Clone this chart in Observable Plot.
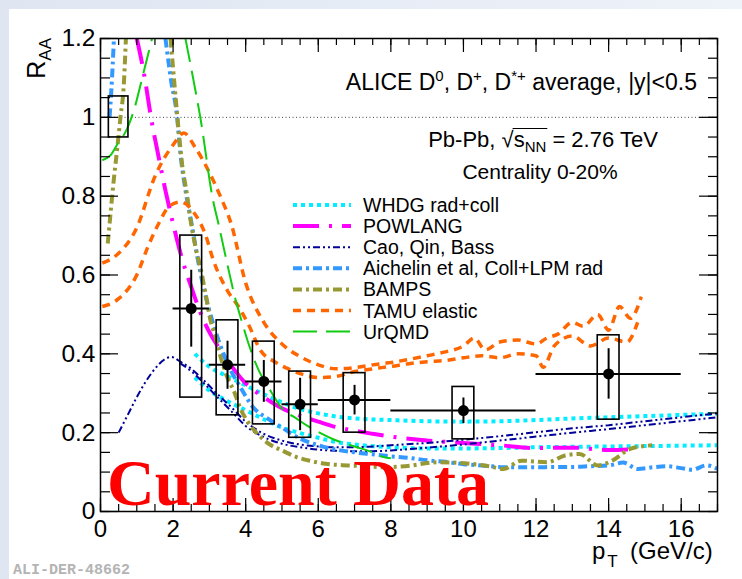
<!DOCTYPE html>
<html><head><meta charset="utf-8">
<script src="https://cdn.jsdelivr.net/npm/d3@7"></script>
<script src="https://cdn.jsdelivr.net/npm/@observablehq/plot@0.6"></script>
<style>
html,body{margin:0;padding:0;}
body{width:742px;height:579px;background:linear-gradient(90deg,#dfe6f2,#eef2f9);position:relative;overflow:hidden;}
#paper{position:absolute;left:9px;top:9px;width:733px;height:570px;background:#fff;}
#chart{position:absolute;left:0;top:0;}
#chart svg{display:block;}
</style></head><body><div id="paper"></div><div id="chart"></div>
<script>
// ---------------- Measured D-meson RAA (ALICE, Pb-Pb 2.76 TeV, 0-20%) ----------------
const ptCenter  = [2.5, 3.5, 4.5, 5.5, 7, 10, 14];
const ptBinLow  = [2, 3, 4, 5, 6, 8, 12];
const ptBinHigh = [3, 4, 5, 6, 8, 12, 16];
const raaValue  = [0.515, 0.372, 0.330, 0.272, 0.283, 0.256, 0.349];
const statLow   = [0.417, 0.310, 0.277, 0.205, 0.245, 0.223, 0.285];
const statHigh  = [0.612, 0.432, 0.383, 0.338, 0.320, 0.288, 0.413];
const systLow   = [0.289, 0.244, 0.221, 0.187, 0.200, 0.183, 0.233];
const systHigh  = [0.700, 0.485, 0.431, 0.355, 0.351, 0.316, 0.447];
const systHalfWidth = 0.3;
// normalisation uncertainty box around RAA = 1
const normPtLow = [0.23], normPtHigh = [0.77], normLow = [0.949], normHigh = [1.053];

// ---------------- Model curves ----------------
const whdgUpperPt = [2.6, 3.0, 3.5, 4.0, 4.5, 5.0, 5.5, 6.0, 6.5, 7.0, 8.0, 9.0, 10.0, 11.0, 12.0, 13.0, 14.0, 15.0, 16.0, 17.0];
const whdgUpperR  = [0.40, 0.367, 0.343, 0.320, 0.297, 0.277, 0.260, 0.249, 0.241, 0.236, 0.232, 0.229, 0.228, 0.229, 0.232, 0.236, 0.239, 0.242, 0.245, 0.248];
const whdgLowerPt = [2.6, 3.0, 3.5, 4.0, 4.5, 5.0, 5.5, 6.0, 6.5, 7.0, 8.0, 9.0, 10.0, 11.0, 12.0, 13.0, 14.0, 15.0, 16.0, 17.0];
const whdgLowerR  = [0.34, 0.307, 0.280, 0.257, 0.234, 0.213, 0.199, 0.187, 0.176, 0.170, 0.163, 0.160, 0.160, 0.161, 0.163, 0.164, 0.165, 0.166, 0.167, 0.168];

const powlangPt = [1.0, 1.2, 1.4, 1.6, 1.8, 2.0, 2.25, 2.5, 2.75, 3.0, 3.3, 3.6, 4.0, 4.5, 5.0, 5.5, 6.0, 6.5, 7.0, 7.5, 8.0, 9.0, 10.0, 11.0, 12.0, 13.0, 14.0, 14.8];
const powlangR  = [1.2, 1.11, 0.995, 0.90, 0.81, 0.73, 0.64, 0.57, 0.505, 0.455, 0.41, 0.37, 0.325, 0.29, 0.262, 0.243, 0.228, 0.214, 0.205, 0.197, 0.190, 0.180, 0.174, 0.168, 0.161, 0.162, 0.156, 0.159];

const caoUpperPt = [0.5, 0.75, 1.0, 1.25, 1.5, 1.75, 1.95, 2.2, 2.5, 2.8, 3.2, 3.6, 4.0, 4.5, 5.0, 5.5, 6.0, 6.5, 7.0, 7.5, 8.0, 9.0, 10.0, 11.0, 12.0, 13.0, 14.0, 15.0, 16.0, 17.0];
const caoUpperR  = [0.20, 0.245, 0.29, 0.33, 0.362, 0.385, 0.392, 0.380, 0.362, 0.337, 0.300, 0.265, 0.228, 0.197, 0.180, 0.170, 0.165, 0.163, 0.163, 0.165, 0.168, 0.174, 0.182, 0.191, 0.201, 0.211, 0.219, 0.229, 0.239, 0.249];
const caoLowerPt = [2.2, 2.5, 2.8, 3.2, 3.6, 4.0, 4.5, 5.0, 5.5, 6.0, 6.5, 7.0, 7.5, 8.0, 9.0, 10.0, 11.0, 12.0, 13.0, 14.0, 15.0, 16.0, 17.0];
const caoLowerR  = [0.376, 0.356, 0.330, 0.292, 0.255, 0.217, 0.189, 0.172, 0.163, 0.157, 0.154, 0.153, 0.153, 0.155, 0.162, 0.170, 0.180, 0.190, 0.200, 0.209, 0.219, 0.229, 0.239];

const aichelinLowPt  = [0.25, 0.30, 0.37];
const aichelinLowR   = [1.0, 1.07, 1.2];
const aichelinHighPt = [1.79, 1.95, 2.1, 2.2, 2.35, 2.5, 2.65, 2.8, 3.0, 3.25, 3.5, 3.85, 4.2, 4.6, 5.0, 5.5, 6.0, 6.5, 7.0, 7.5, 8.0, 8.5, 9.0, 9.5, 10.0, 10.5, 11.0, 11.5, 12.0, 12.5, 13.0, 13.5, 14.0, 14.4, 14.8, 15.2, 15.6, 16.0, 16.3, 16.7, 17.0];
const aichelinHighR  = [1.2, 1.09, 1.01, 0.91, 0.81, 0.735, 0.655, 0.585, 0.51, 0.435, 0.375, 0.316, 0.265, 0.236, 0.213, 0.185, 0.168, 0.157, 0.150, 0.145, 0.140, 0.136, 0.130, 0.126, 0.120, 0.117, 0.113, 0.112, 0.112, 0.113, 0.113, 0.115, 0.117, 0.124, 0.108, 0.112, 0.115, 0.110, 0.106, 0.117, 0.108];

const bampsLowPt  = [0.2, 0.23, 0.28, 0.37, 0.46, 0.55, 0.64, 0.70];
const bampsLowR   = [0.68, 0.71, 0.76, 0.845, 0.92, 1.0, 1.08, 1.2];
const bampsHighPt = [1.93, 2.07, 2.16, 2.25, 2.39, 2.48, 2.62, 2.75, 2.9, 3.03, 3.17, 3.31, 3.49, 3.67, 3.86, 4.1, 4.4, 4.7, 5.0, 5.4, 5.8, 6.2, 6.8, 7.4, 7.8, 8.4, 9.3, 10.2, 10.7, 11.1, 11.6, 12.3, 12.8, 13.2, 13.7, 14.1, 14.6, 15.2];
const bampsHighR  = [1.2, 1.05, 0.96, 0.88, 0.80, 0.74, 0.67, 0.62, 0.55, 0.485, 0.442, 0.392, 0.341, 0.307, 0.26, 0.222, 0.19, 0.168, 0.155, 0.138, 0.128, 0.121, 0.117, 0.115, 0.112, 0.115, 0.125, 0.121, 0.115, 0.108, 0.129, 0.125, 0.142, 0.146, 0.117, 0.129, 0.159, 0.168];

const tamuUpperPt = [0.05, 0.5, 1.0, 1.5, 2.0, 2.3, 2.6, 3.0, 3.3, 3.6, 4.0, 4.5, 5.0, 5.5, 6.0, 6.5, 7.0, 7.5, 8.0, 8.5, 9.0, 9.5, 10.0, 10.3, 10.6, 11.0, 11.5, 12.0, 12.3, 12.6, 13.0, 13.3, 13.7, 14.0, 14.3, 14.6, 14.9];
const tamuUpperR  = [0.63, 0.655, 0.72, 0.85, 0.93, 0.96, 0.925, 0.86, 0.80, 0.73, 0.58, 0.48, 0.425, 0.393, 0.372, 0.362, 0.365, 0.372, 0.378, 0.386, 0.395, 0.405, 0.42, 0.44, 0.41, 0.43, 0.435, 0.425, 0.44, 0.45, 0.48, 0.47, 0.50, 0.46, 0.52, 0.49, 0.545];
const tamuLowerPt = [0.05, 0.5, 1.0, 1.3, 1.6, 1.9, 2.2, 2.6, 2.9, 3.1, 3.5, 3.8, 4.1, 4.4, 4.8, 5.1, 5.5, 6.0, 6.5, 7.0, 7.5, 8.0, 8.5, 9.0, 9.5, 10.0, 10.5, 11.0, 11.5, 12.0, 12.2, 12.5, 13.0, 13.5, 14.0, 14.5, 14.8];
const tamuLowerR  = [0.52, 0.54, 0.60, 0.67, 0.73, 0.775, 0.785, 0.755, 0.70, 0.64, 0.56, 0.52, 0.47, 0.41, 0.38, 0.365, 0.35, 0.34, 0.343, 0.355, 0.362, 0.368, 0.375, 0.38, 0.383, 0.39, 0.395, 0.39, 0.40, 0.395, 0.366, 0.42, 0.445, 0.42, 0.44, 0.43, 0.48];

const urqmdLowPt  = [0.05, 0.28, 0.5, 0.69, 0.92, 1.19, 1.42];
const urqmdLowR   = [0.891, 0.904, 0.937, 0.963, 1.018, 1.115, 1.2];
const urqmdHighPt = [2.34, 2.55, 2.75, 3.1, 3.25, 3.5, 3.7, 3.9, 4.1, 4.36, 4.68, 5.05, 5.33, 5.69, 6.0, 6.5, 7.0, 7.5, 7.8, 8.0];
const urqmdHighR  = [1.2, 1.1, 1.0, 0.79, 0.73, 0.625, 0.545, 0.48, 0.42, 0.358, 0.307, 0.256, 0.24, 0.218, 0.202, 0.18, 0.165, 0.15, 0.138, 0.135];

// ---------------- Axis ticks and labels ----------------
const xMajorTicks = [0, 2, 4, 6, 8, 10, 12, 14, 16];
const xTickLabels = ["0", "2", "4", "6", "8", "10", "12", "14", "16"];
const yMajorTicks = [0, 0.2, 0.4, 0.6, 0.8, 1.0, 1.2];
const yTickLabels = ["0", "0.2", "0.4", "0.6", "0.8", "1", "1.2"];
const xMinorTicks = d3.range(0, 17.001, 0.5);
const yMinorTicks = d3.range(0, 1.2001, 0.05);

// ---------------- Model styles / legend ----------------
const models = [
  {name: "WHDG rad+coll", color: "#00eeff", width: 4, dash: "4,4",
   branches: [[whdgUpperPt, whdgUpperR], [whdgLowerPt, whdgLowerR]]},
  {name: "POWLANG", color: "#ff00ff", width: 4, dash: "26,10,3,10",
   branches: [[powlangPt, powlangR]]},
  {name: "Cao, Qin, Bass", color: "#000099", width: 2, dash: "7,3,2,3,2,3",
   branches: [[caoUpperPt, caoUpperR], [caoLowerPt, caoLowerR]]},
  {name: "Aichelin et al, Coll+LPM rad", color: "#3399ff", width: 4, dash: "9,4,3,4",
   branches: [[aichelinLowPt, aichelinLowR], [aichelinHighPt, aichelinHighR]]},
  {name: "BAMPS", color: "#999933", width: 4, dash: "9,4,3,4",
   branches: [[bampsLowPt, bampsLowR], [bampsHighPt, bampsHighR]]},
  {name: "TAMU elastic", color: "#ff6600", width: 3.5, dash: "8,6",
   branches: [[tamuUpperPt, tamuUpperR], [tamuLowerPt, tamuLowerR]]},
  {name: "UrQMD", color: "#11cc11", width: 2, dash: "24,9",
   branches: [[urqmdLowPt, urqmdLowR], [urqmdHighPt, urqmdHighR]]}
];

// ---------------- Build tables ----------------
const points = ptCenter.map((x, i) => ({
  x, lo: ptBinLow[i], hi: ptBinHigh[i], y: raaValue[i],
  sLo: statLow[i], sHi: statHigh[i], yLo: systLow[i], yHi: systHigh[i]
}));
const norm = normLow.map((v, i) => ({x1: normPtLow[i], x2: normPtHigh[i], y1: v, y2: normHigh[i]}));

const W = 742, H = 579, ML = 100, MR = 25, MT = 38, MB = 68;
const plotW = W - ML - MR, plotH = H - MT - MB;

const curveMarks = [];
models.forEach(m => {
  m.branches.forEach(([pts, rs]) => {
    const rows = pts.map((p, i) => ({p, r: rs[i]}));
    curveMarks.push(Plot.line(rows, {x: "p", y: "r", stroke: m.color, strokeWidth: m.width,
      strokeDasharray: m.dash, strokeLinecap: "butt", strokeLinejoin: "miter", curve: "monotone-x", clip: true}));
  });
});

const plot = Plot.plot({
  width: W, height: H,
  marginLeft: ML, marginRight: MR, marginTop: MT, marginBottom: MB,
  x: {domain: [0, 17], axis: null},
  y: {domain: [0, 1.2], axis: null},
  style: {background: "transparent", overflow: "visible"},
  marks: [
    Plot.ruleY([1], {stroke: "#444", strokeWidth: 1, strokeDasharray: "1,2.5"}),
    ...curveMarks,
    // systematic boxes
    Plot.rect(points, {x1: d => d.x - systHalfWidth, x2: d => d.x + systHalfWidth, y1: "yLo", y2: "yHi",
      fill: "none", stroke: "black", strokeWidth: 1.6}),
    Plot.rect(norm, {x1: "x1", x2: "x2", y1: "y1", y2: "y2", fill: "none", stroke: "black", strokeWidth: 1.6}),
    // statistical error bars and bin widths
    Plot.ruleX(points, {x: "x", y1: "sLo", y2: "sHi", stroke: "black", strokeWidth: 2}),
    Plot.ruleY(points, {y: "y", x1: "lo", x2: "hi", stroke: "black", strokeWidth: 2}),
    Plot.dot(points, {x: "x", y: "y", r: 5.5, fill: "black", stroke: "none"}),
    // frame and inside ticks
    Plot.frame({stroke: "black", strokeWidth: 1.5}),
    Plot.tickX(xMinorTicks, {x: d => d, stroke: "black", strokeWidth: 1.2, insetTop: plotH - 7}),
    Plot.tickX(xMajorTicks, {x: d => d, stroke: "black", strokeWidth: 1.2, insetTop: plotH - 13}),
    Plot.tickX(xMinorTicks, {x: d => d, stroke: "black", strokeWidth: 1.2, insetBottom: plotH - 7}),
    Plot.tickX(xMajorTicks, {x: d => d, stroke: "black", strokeWidth: 1.2, insetBottom: plotH - 14}),
    Plot.tickY(yMinorTicks, {y: d => d, stroke: "black", strokeWidth: 1.2, insetRight: plotW - 10}),
    Plot.tickY(yMajorTicks, {y: d => d, stroke: "black", strokeWidth: 1.2, insetRight: plotW - 18}),
    Plot.tickY(yMinorTicks, {y: d => d, stroke: "black", strokeWidth: 1.2, insetLeft: plotW - 9}),
    Plot.tickY(yMajorTicks, {y: d => d, stroke: "black", strokeWidth: 1.2, insetLeft: plotW - 18}),
    // tick labels
    Plot.text(xMajorTicks, {x: d => d, y: 0, dy: 18, text: (d, i) => xTickLabels[i], fontSize: 24,
      fontFamily: "Liberation Sans, Arial, sans-serif", fill: "black", lineAnchor: "middle"}),
    Plot.text(yMajorTicks, {x: 0, y: d => d, dx: -5, text: (d, i) => yTickLabels[i], textAnchor: "end", fontSize: 24.5,
      fontFamily: "Liberation Sans, Arial, sans-serif", fill: "black", lineAnchor: "middle"})
  ]
});
document.getElementById("chart").appendChild(plot);

// ---------------- Annotations, legend, titles ----------------
const svg = d3.select(plot);
const g = svg.append("g").attr("font-family", "Liberation Sans, Arial, sans-serif").attr("fill", "black")
  .attr("text-anchor", "start");

// Big "Current Data" label
g.append("text").attr("x", 107).attr("y", 505).attr("text-anchor", "start")
  .attr("font-family", "Liberation Serif, Times New Roman, serif")
  .attr("font-weight", "bold").attr("font-size", 66).attr("fill", "#ff0000").text("Current Data");

// ALICE label with superscripts
const t1 = g.append("text").attr("x", 697).attr("y", 90).attr("text-anchor", "end").attr("font-size", 23);
t1.append("tspan").text("ALICE D");
t1.append("tspan").attr("dy", -9).attr("font-size", 15).text("0");
t1.append("tspan").attr("dy", 9).text(", D");
t1.append("tspan").attr("dy", -9).attr("font-size", 15).text("+");
t1.append("tspan").attr("dy", 9).text(", D");
t1.append("tspan").attr("dy", -9).attr("font-size", 15).text("*+");
t1.append("tspan").attr("dy", 9).text(" average, |y|<0.5");

// Pb-Pb line
const t2 = g.append("text").attr("x", 543).attr("y", 147).attr("text-anchor", "middle").attr("font-size", 22);
t2.append("tspan").text("Pb-Pb, \u221A");
t2.append("tspan").text("s");
t2.append("tspan").attr("dy", 5).attr("font-size", 15).text("NN");
t2.append("tspan").attr("dy", -5).text(" = 2.76 TeV");
try {
  const el = t2.node();
  const eRoot = el.getExtentOfChar(7), eEnd = el.getExtentOfChar(10);
  g.append("line").attr("x1", eRoot.x + eRoot.width - 1).attr("x2", eEnd.x + eEnd.width + 1)
    .attr("y1", eRoot.y + 1.5).attr("y2", eRoot.y + 1.5).attr("stroke", "black").attr("stroke-width", 1.2);
} catch (e) {}

g.append("text").attr("x", 540).attr("y", 179).attr("text-anchor", "middle").attr("font-size", 21).text("Centrality 0-20%");

// Legend
const legendRowY = (i) => 205 + i * 21.1;
models.forEach((m, i) => {
  const y = legendRowY(i);
  svg.append("line").attr("x1", 293).attr("x2", 351).attr("y1", y).attr("y2", y)
    .attr("stroke", m.color).attr("stroke-width", m.width).attr("stroke-dasharray", m.dash)
    .attr("stroke-linecap", "butt");
  g.append("text").attr("x", 363).attr("y", y + 7).attr("text-anchor", "start").attr("font-size", 19.5).text(m.name);
});

// Axis titles
const ty = g.append("text").attr("transform", "translate(45,38) rotate(-90)").attr("text-anchor", "end").attr("font-size", 25);
ty.append("tspan").text("R");
ty.append("tspan").attr("dy", 6).attr("font-size", 17).text("AA");

const tx = g.append("text").attr("x", 592).attr("y", 559).attr("text-anchor", "start").attr("font-size", 24);
tx.append("tspan").text("p");
tx.append("tspan").attr("dx", 2).attr("dy", 8).attr("font-size", 17).text("T");
tx.append("tspan").attr("x", 630).attr("dy", -8).text("(GeV/c)");

// Figure ID
g.append("text").attr("x", 13).attr("y", 574).attr("text-anchor", "start")
  .attr("font-family", "Liberation Mono, DejaVu Sans Mono, monospace")
  .attr("font-weight", "bold").attr("font-size", 15).attr("fill", "#b4b4b4").text("ALI-DER-48662");
</script>
</body></html>
